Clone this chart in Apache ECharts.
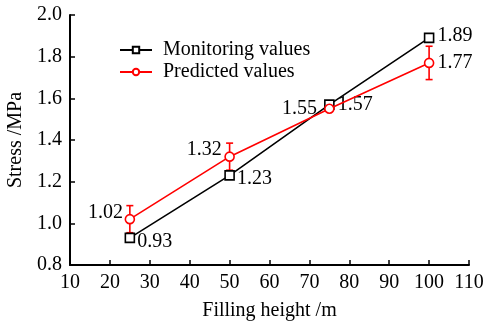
<!DOCTYPE html>
<html><head><meta charset="utf-8">
<script src="https://cdn.jsdelivr.net/npm/echarts@6/dist/echarts.min.js"></script>
<style>html,body{margin:0;padding:0;background:#fff}#c{width:484px;height:322px}</style>
</head><body><div id="c"></div>
<script>
var heights = [25, 50, 75, 100];
var monitoring = [0.93, 1.23, 1.57, 1.89];
var predicted = [1.02, 1.32, 1.55, 1.77];
var predErr = [0.065, 0.065, 0.01, 0.08];
var xTicks = [10, 20, 30, 40, 50, 60, 70, 80, 90, 100, 110];
var yTicks = [0.8, 1.0, 1.2, 1.4, 1.6, 1.8, 2.0];
var monLabelPos = ['right', 'right', 'right', 'right'];
var predLabelPos = ['left', 'left', 'left', 'right'];

var FONT = 'Liberation Serif';
var FS = 20;
var chart = echarts.init(document.getElementById('c'), null, {renderer: 'canvas'});

var monOffsets = [[-1, 4], [-1, 3], [0, 0], [0, -2]];
var predOffsets = [[1.5, -6], [0.5, -7], [-4, 0], [0, 0]];
var monData = heights.map(function (x, i) {
  return {value: [x, monitoring[i]], label: {position: monLabelPos[i], offset: monOffsets[i]}};
});
var predData = heights.map(function (x, i) {
  return {value: [x, predicted[i]], label: {position: predLabelPos[i], offset: predOffsets[i]}};
});
var errData = heights.map(function (x, i) { return [x, predicted[i] - predErr[i], predicted[i] + predErr[i]]; });

chart.setOption({
  animation: false,
  backgroundColor: '#fff',
  textStyle: {fontFamily: FONT},
  grid: {left: 70, right: 15, top: 15, bottom: 57, containLabel: false, outerBoundsMode: 'none'},
  legend: {
    left: 114, top: 35, orient: 'vertical', itemGap: 2,
    itemWidth: 32, itemHeight: 8,
    textStyle: {fontFamily: FONT, fontSize: FS, color: '#000', lineHeight: 20, padding: [0, 0, 0, 6]},
    data: ['Monitoring values', 'Predicted values']
  },
  xAxis: {
    type: 'value', min: 10, max: 110, interval: 10,
    name: 'Filling height /m', nameLocation: 'middle', nameGap: 36,
    nameTextStyle: {fontFamily: FONT, fontSize: FS, color: '#000'},
    axisLine: {onZero: false, lineStyle: {color: '#000', width: 2}},
    axisTick: {inside: true, length: 5, lineStyle: {color: '#000', width: 1.5}},
    axisLabel: {fontFamily: FONT, fontSize: FS, color: '#000', margin: 8},
    splitLine: {show: false}
  },
  yAxis: {
    type: 'value', min: 0.8, max: 2.0, interval: 0.2,
    name: 'Stress /MPa', nameLocation: 'middle', nameGap: 39,
    nameTextStyle: {fontFamily: FONT, fontSize: FS, color: '#000'},
    axisLine: {onZero: false, lineStyle: {color: '#000', width: 2}},
    axisTick: {inside: true, length: 5, lineStyle: {color: '#000', width: 1.5}},
    axisLabel: {fontFamily: FONT, fontSize: FS, color: '#000', margin: 8,
      formatter: function (v) { return v.toFixed(1); }},
    splitLine: {show: false}
  },
  series: [
    {
      name: 'Monitoring values', type: 'line', data: monData,
      symbol: 'rect', symbolSize: 9, showAllSymbol: true, z: 3,
      lineStyle: {color: '#000', width: 1.6},
      itemStyle: {color: '#fff', borderColor: '#000', borderWidth: 1.6},
      label: {show: true, fontFamily: FONT, fontSize: FS, color: '#000', distance: 3,
        formatter: function (p) { return p.value[1].toFixed(2); }}
    },
    {
      name: 'Predicted values', type: 'line', data: predData,
      symbol: 'circle', symbolSize: 9, showAllSymbol: true, z: 4,
      lineStyle: {color: '#f00', width: 1.6},
      itemStyle: {color: '#fff', borderColor: '#f00', borderWidth: 1.6},
      label: {show: true, fontFamily: FONT, fontSize: FS, color: '#000', distance: 3,
        formatter: function (p) { return p.value[1].toFixed(2); }}
    },
    {
      name: 'err', type: 'custom', z: 2, data: errData,
      renderItem: function (params, api) {
        var x = api.value(0);
        var lo = api.coord([x, api.value(1)]);
        var hi = api.coord([x, api.value(2)]);
        var w = 3.5;
        var st = {stroke: '#f00', lineWidth: 1.6};
        return {type: 'group', children: [
          {type: 'line', shape: {x1: lo[0], y1: lo[1], x2: hi[0], y2: hi[1]}, style: st},
          {type: 'line', shape: {x1: lo[0] - w, y1: lo[1], x2: lo[0] + w, y2: lo[1]}, style: st},
          {type: 'line', shape: {x1: hi[0] - w, y1: hi[1], x2: hi[0] + w, y2: hi[1]}, style: st}
        ]};
      },
      encode: {x: 0, y: [1, 2]}
    }
  ]
});
</script>
</body></html>
